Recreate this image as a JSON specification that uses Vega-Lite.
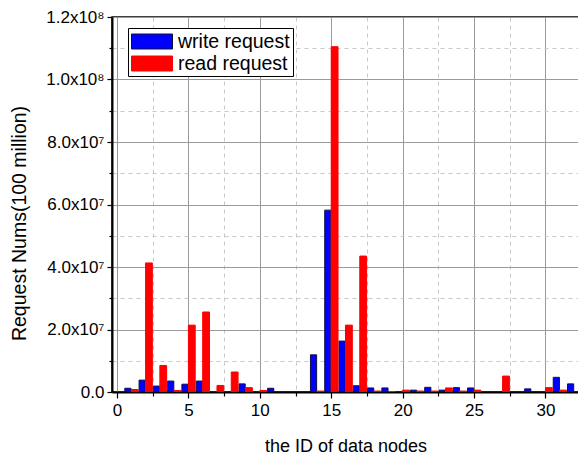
{
  "$schema": "https://vega.github.io/schema/vega-lite/v6.json",
  "autosize": "none",
  "width": 467,
  "height": 375,
  "padding": {"left": 112, "top": 17, "right": 0, "bottom": 67},
  "background": "white",
  "config": {
    "font": "Liberation Sans",
    "view": {"stroke": "black", "strokeWidth": 1.5},
    "axis": {"labelFont": "Liberation Sans", "titleFont": "Liberation Sans", "labelColor": "black", "titleColor": "black", "titleFontWeight": "normal"}
  },
  "data": {
    "values": [
      {"node": 1, "write": 1200000, "read": 800000},
      {"node": 2, "write": 3800000, "read": 41300000},
      {"node": 3, "write": 1900000, "read": 8500000},
      {"node": 4, "write": 3500000, "read": 500000},
      {"node": 5, "write": 2500000, "read": 21400000},
      {"node": 6, "write": 3500000, "read": 25600000},
      {"node": 7, "write": 0, "read": 2100000},
      {"node": 8, "write": 0, "read": 6400000},
      {"node": 9, "write": 2600000, "read": 1400000},
      {"node": 10, "write": 0, "read": 500000},
      {"node": 11, "write": 1200000, "read": 0},
      {"node": 12, "write": 0, "read": 0},
      {"node": 13, "write": 0, "read": 0},
      {"node": 14, "write": 11900000, "read": 300000},
      {"node": 15, "write": 58200000, "read": 110500000},
      {"node": 16, "write": 16300000, "read": 21400000},
      {"node": 17, "write": 2000000, "read": 43500000},
      {"node": 18, "write": 1300000, "read": 300000},
      {"node": 19, "write": 1300000, "read": 150000},
      {"node": 20, "write": 0, "read": 600000},
      {"node": 21, "write": 600000, "read": 300000},
      {"node": 22, "write": 1500000, "read": 300000},
      {"node": 23, "write": 600000, "read": 1300000},
      {"node": 24, "write": 1400000, "read": 300000},
      {"node": 25, "write": 1300000, "read": 600000},
      {"node": 26, "write": 0, "read": 0},
      {"node": 27, "write": 0, "read": 5100000},
      {"node": 28, "write": 0, "read": 0},
      {"node": 29, "write": 1000000, "read": 0},
      {"node": 30, "write": 0, "read": 1400000},
      {"node": 31, "write": 4700000, "read": 600000},
      {"node": 32, "write": 2600000, "read": 0}
    ]
  },
  "transform": [
    {"fold": ["write", "read"], "as": ["kind", "value"]},
    {"filter": "datum.value > 0"},
    {"calculate": "datum.kind == 'write' ? 'write request' : 'read request'", "as": "series"}
  ],
  "layer": [
    {
      "transform": [{"filter": "datum.kind == 'write'"}],
      "mark": {"type": "bar", "width": 6.2, "xOffset": -3.4, "strokeWidth": 1, "clip": true},
      "encoding": {
        "x": {
          "field": "node", "type": "quantitative",
          "scale": {"domain": [0, 32], "nice": false, "zero": false},
          "axis": {
            "orient": "bottom", "values": [0, 5, 10, 15, 20, 25, 30],
            "title": "the ID of data nodes", "titleFontSize": 18, "titlePadding": 19,
            "labelFontSize": 17, "labelPadding": 4, "labelFlush": false,
            "tickSize": 6, "tickColor": "black", "tickWidth": 1.2,
            "domainColor": "black", "domainWidth": 2,
            "grid": true, "gridColor": "#9a9a9a", "gridWidth": 1
          }
        },
        "y": {
          "field": "value", "type": "quantitative",
          "scale": {"domain": [0, 120000000], "nice": false},
          "axis": {
            "orient": "left", "values": [0, 20000000, 40000000, 60000000, 80000000, 100000000, 120000000],
            "labelExpr": "datum.value == 0 ? '0.0' : (datum.value >= 100000000 ? format(datum.value/100000000, '.1f') + 'x10⁸' : format(datum.value/10000000, '.1f') + 'x10⁷')",
            "title": "Request Nums(100 million)", "titleFontSize": 19.5, "titlePadding": 16, "titleY": 206,
            "labelFontSize": 17, "labelPadding": 3,
            "tickSize": 5, "tickColor": "black", "tickWidth": 1.2,
            "domainColor": "black", "domainWidth": 2,
            "grid": true, "gridColor": "#9a9a9a", "gridWidth": 1
          }
        },
        "color": {
          "field": "series", "type": "nominal",
          "scale": {"domain": ["write request", "read request"], "range": ["#0000ff", "#ff0000"]},
          "legend": {
            "title": null, "orient": "none", "legendX": 16, "legendY": 11,
            "direction": "vertical", "fillColor": "white", "strokeColor": "black",
            "padding": 3, "rowPadding": 2, "labelFontSize": 19.5, "labelFont": "Liberation Sans", "labelColor": "black",
            "symbolType": "M-1,-0.75H3.1V0.75H-1Z", "symbolSize": 400, "labelOffset": 26,
            "symbolStrokeWidth": 1, "symbolOpacity": 1
          }
        },
        "stroke": {
          "field": "series", "type": "nominal",
          "scale": {"domain": ["write request", "read request"], "range": ["#101040", "#ff0000"]},
          "legend": null
        }
      }
    },
    {
      "transform": [{"filter": "datum.kind == 'read'"}],
      "mark": {"type": "bar", "width": 6.8, "xOffset": 3.4, "clip": true},
      "encoding": {
        "x": {
          "field": "node", "type": "quantitative",
          "axis": {
            "orient": "bottom", "values": [2.5, 7.5, 12.5, 17.5, 22.5, 27.5],
            "labels": false, "title": null, "domain": false,
            "tickSize": 4, "tickColor": "black", "tickWidth": 1.2,
            "grid": true, "gridColor": "#c8c8c8", "gridDash": [4, 4], "gridWidth": 1
          }
        },
        "y": {
          "field": "value", "type": "quantitative",
          "axis": {
            "orient": "left", "values": [10000000, 30000000, 50000000, 70000000, 90000000, 110000000],
            "labels": false, "title": null, "domain": false,
            "tickSize": 3, "tickColor": "black", "tickWidth": 1.2,
            "grid": true, "gridColor": "#c8c8c8", "gridDash": [4, 4], "gridWidth": 1
          }
        },
        "color": {"field": "series", "type": "nominal"},
        "stroke": {"field": "series", "type": "nominal", "legend": null}
      }
    }
  ],
  "resolve": {"axis": {"x": "independent", "y": "independent"}}
}
